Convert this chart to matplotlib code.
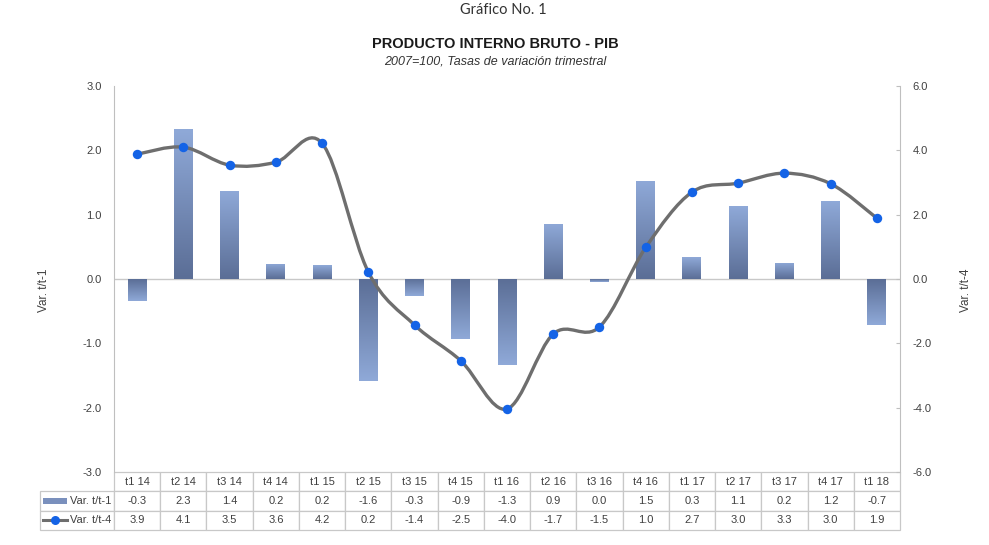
import numpy as np
import matplotlib
matplotlib.use('Agg')
import matplotlib.pyplot as plt
from matplotlib.path import Path
from matplotlib.patches import PathPatch, Rectangle
from matplotlib.lines import Line2D
from matplotlib.colors import to_rgb

# ---------------- data ----------------
categories = ['t1 14', 't2 14', 't3 14', 't4 14', 't1 15', 't2 15', 't3 15', 't4 15',
              't1 16', 't2 16', 't3 16', 't4 16', 't1 17', 't2 17', 't3 17', 't4 17', 't1 18']
var_t1 = [-0.34, 2.33, 1.37, 0.24, 0.21, -1.59, -0.27, -0.94, -1.34, 0.86, -0.04,
          1.53, 0.34, 1.13, 0.25, 1.21, -0.71]
var_t4 = [3.88, 4.10, 3.54, 3.63, 4.22, 0.22, -1.43, -2.54, -4.04, -1.71, -1.49,
          0.98, 2.70, 2.98, 3.29, 2.96, 1.89]
series_names = ['Var. t/t-1', 'Var. t/t-4']
left_ticks = [-3.0, -2.0, -1.0, 0.0, 1.0, 2.0, 3.0]
right_ticks = [-6.0, -4.0, -2.0, 0.0, 2.0, 4.0, 6.0]

title_top = 'Gráfico No. 1'
title_main = 'PRODUCTO INTERNO BRUTO - PIB'
subtitle = '2007=100, Tasas de variación trimestral'

# ---------------- style ----------------
FONT = 'Liberation Sans'
TXT = '#404040'
GRID = '#c8c8c8'
BAR_LIGHT = '#8fa9d8'
BAR_DARK = '#5b6e96'
LINE_C = '#6e6e6e'
MARK_C = '#1463e6'

plt.rcParams['font.family'] = [FONT, 'DejaVu Sans']

fig = plt.figure(figsize=(9.89, 5.45), dpi=100)
ax = fig.add_axes([114/989, 1-472/545, (900-114)/989, (472-86)/545])
ax2 = ax.twinx()

x = np.arange(len(categories))

# ---------------- bars with gradient ----------------
bars = ax.bar(x, var_t1, width=0.41, color=BAR_DARK, zorder=2, linewidth=0)
light = np.array(to_rgb(BAR_LIGHT))
dark = np.array(to_rgb(BAR_DARK))
t = np.linspace(0, 1, 64)[:, None]
for b, v in zip(bars, var_t1):
    x0 = b.get_x(); w = b.get_width()
    y0 = b.get_y(); h = b.get_height()
    ylo, yhi = min(y0, y0 + h), max(y0, y0 + h)
    if v >= 0:
        grad = dark + (light - dark) * t  # bottom dark -> top light
    else:
        grad = light + (dark - light) * t  # bottom light -> top dark
    img = ax.imshow(grad[:, None, :], extent=[x0, x0 + w, ylo, yhi], origin='lower',
                    aspect='auto', zorder=3, interpolation='bilinear')
    img.set_clip_path(b)

ax.axhline(0, color=GRID, lw=1.0, zorder=1)
ax.set_xlim(-0.5, len(categories) - 0.5)
ax.set_ylim(-3, 3)
ax.set_yticks(left_ticks)
ax.set_yticklabels([f'{v:.1f}' for v in left_ticks])
ax.tick_params(axis='y', length=0, pad=9, labelsize=8, labelcolor=TXT)
ax.set_xticks([])
for s in ['top', 'bottom']:
    ax.spines[s].set_visible(False)
ax.spines['left'].set_color('#bfbfbf')
ax.spines['right'].set_visible(False)

# ---------------- smoothed line ----------------
ax2.set_ylim(-6, 6)
ax2.set_yticks(right_ticks)
ax2.set_yticklabels([f'{v:.1f}' for v in right_ticks])
ax2.tick_params(axis='y', direction='in', length=3, pad=9, labelsize=8,
                labelcolor=TXT, color='#bfbfbf')
for s in ['top', 'bottom', 'left']:
    ax2.spines[s].set_visible(False)
ax2.spines['right'].set_color('#bfbfbf')

P = np.column_stack([x, var_t4]).astype(float)
n = len(P)
verts = [P[0]]
codes = [Path.MOVETO]
for i in range(n - 1):
    p_prev = P[i - 1] if i > 0 else P[i]
    p_next2 = P[i + 2] if i + 2 < n else P[i + 1]
    c1 = P[i] + (P[i + 1] - p_prev) / 6.0
    c2 = P[i + 1] - (p_next2 - P[i]) / 6.0
    verts += [c1, c2, P[i + 1]]
    codes += [Path.CURVE4] * 3
ax2.add_patch(PathPatch(Path(verts, codes), fill=False, edgecolor=LINE_C, lw=2.4,
                        zorder=3, capstyle='round'))
ax2.plot(x, var_t4, 'o', color=MARK_C, ms=6.8, zorder=4, markeredgewidth=0)
ax2.set_xlim(-0.5, len(categories) - 0.5)

# ---------------- data table ----------------
def fmt(v):
    s = f'{v:.1f}'
    return '0.0' if s == '-0.0' else s

cell_text = [[''] + categories,
             [series_names[0]] + [fmt(v) for v in var_t1],
             [series_names[1]] + [fmt(v) for v in var_t4]]
label_w = 74.0
col_w = 786.0 / len(categories)
total_w = label_w + col_w * len(categories)
tbl = ax.table(cellText=cell_text, cellLoc='center',
               colWidths=[label_w / total_w] + [col_w / total_w] * len(categories),
               bbox=[-label_w / 786.0, -58.0 / 386.0, total_w / 786.0, 58.0 / 386.0])
tbl.auto_set_font_size(False)
tbl.set_fontsize(8)
for (r, c), cell in tbl.get_celld().items():
    cell.set_edgecolor('#c8c8c8')
    cell.set_linewidth(0.9)
    cell.get_text().set_color(TXT)
    if r == 0 and c == 0:
        cell.visible_edges = ''
    if c == 0 and r > 0:
        cell._loc = 'right'
        cell.PAD = 0.04
        cell.get_text().set_horizontalalignment('right')

fig.canvas.draw()
# legend keys inside the label cells
for r, kind in [(1, 'bar'), (2, 'line')]:
    cell = tbl[r, 0]
    cx, cy, cw, chh = cell.get_x(), cell.get_y(), cell.get_width(), cell.get_height()
    kx0 = cx + cw * 0.04
    kx1 = cx + cw * 0.37
    ym = cy + chh / 2
    if kind == 'bar':
        ax.add_patch(Rectangle((kx0, ym - chh * 0.18), kx1 - kx0, chh * 0.36,
                               transform=ax.transAxes, clip_on=False,
                               facecolor='#7a90bd', edgecolor='none'))
    else:
        ax.add_line(Line2D([kx0, kx1], [ym, ym], transform=ax.transAxes, clip_on=False,
                           color=LINE_C, lw=2.2))
        ax.add_line(Line2D([(kx0 + kx1) / 2], [ym], transform=ax.transAxes, clip_on=False,
                           marker='o', color=MARK_C, ms=6.5, markeredgewidth=0))

# ---------------- titles & axis labels ----------------
fig.text(503/989, 1-10/545, title_top, ha='center', va='center', fontsize=10.5,
         color='#333333', family=['Lato', 'DejaVu Sans'])
fig.text(495/989, 1-44/545, title_main, ha='center', va='center', fontsize=10.5,
         fontweight='bold', color='#1a1a1a')
fig.text(495/989, 1-61/545, subtitle, ha='center', va='center', fontsize=9,
         style='italic', color='#333333')
fig.text(44/989, 1-290/545, series_names[0], rotation=90, ha='center', va='center',
         fontsize=8.5, color=TXT)
fig.text(966/989, 1-290/545, series_names[1], rotation=90, ha='center', va='center',
         fontsize=8.5, color=TXT)

fig.savefig('out.png', dpi=100, facecolor='white')
